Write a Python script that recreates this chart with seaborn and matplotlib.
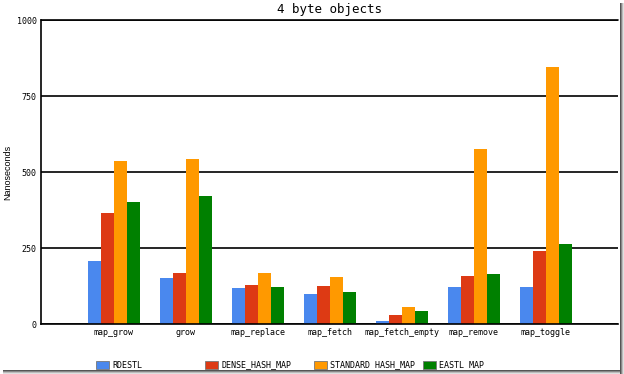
import matplotlib
matplotlib.use("Agg")
import matplotlib.pyplot as plt
from matplotlib.patches import Rectangle
import seaborn as sns
import pandas as pd

categories = ["map_grow", "grow", "map_replace", "map_fetch",
              "map_fetch_empty", "map_remove", "map_toggle"]
series = ["RDESTL", "DENSE_HASH_MAP", "STANDARD HASH_MAP", "EASTL MAP"]
rdestl = [207, 151, 118, 99, 10, 122, 122]
dense_hash_map = [365, 168, 128, 125, 30, 158, 240]
standard_hash_map = [536, 543, 168, 155, 56, 576, 845]
eastl_map = [401, 421, 122, 105, 43, 164, 263]
y_ticks = [0, 250, 500, 750, 1000]
colors = ["#4a88ee", "#dd3a14", "#ff9900", "#008000"]

values = [rdestl, dense_hash_map, standard_hash_map, eastl_map]
rows = []
for s, vals in zip(series, values):
    for c, v in zip(categories, vals):
        rows.append({"test": c, "impl": s, "ns": v})
df = pd.DataFrame(rows)

sns.set_theme(style="white")
W, H = 624, 374
fig = plt.figure(figsize=(W / 100, H / 100), dpi=100)
ax = fig.add_axes([41 / W, 1 - 324 / H, 577 / W, 304 / H])

sns.barplot(data=df, x="test", y="ns", hue="impl", order=categories,
            hue_order=series, palette=dict(zip(series, colors)),
            width=0.72, saturation=1, legend=False, ax=ax, errorbar=None,
            linewidth=0, edgecolor="none")

ax.set_xlim(-1.01, 7.0)
ax.set_ylim(0, 1000)
ax.set_yticks(y_ticks)
ax.set_yticklabels([str(t) for t in y_ticks])
ax.set_axisbelow(True)
ax.yaxis.grid(True, color="black", linewidth=1.2)
ax.xaxis.grid(False)
ax.axhline(1000, color="black", linewidth=1.2, clip_on=False, zorder=0)
for side in ["top", "right"]:
    ax.spines[side].set_visible(False)
for side in ["left", "bottom"]:
    ax.spines[side].set_color("black")
    ax.spines[side].set_linewidth(1.2)

mono = "DejaVu Sans Mono"
ax.tick_params(axis="both", length=0)
ax.tick_params(axis="y", pad=3)
ax.tick_params(axis="x", pad=3)
for lab in ax.get_xticklabels() + ax.get_yticklabels():
    lab.set_fontfamily(mono)
    lab.set_fontsize(6)
    lab.set_color("black")

ax.set_xlabel("")
ax.set_ylabel("")
fig.text(8 / W, 1 - 172 / H, "Nanoseconds", fontsize=6.5,
         family="Liberation Sans", color="black", rotation=90,
         ha="center", va="center")
ax.set_title("4 byte objects", fontsize=9, family=mono, color="black", pad=5)

# legend
for i, (s, col) in enumerate(zip(series, colors)):
    x0 = 96 + i * 109
    fig.add_artist(Rectangle((x0 / W, 1 - 369 / H), 13 / W, 8 / H,
                             transform=fig.transFigure, facecolor=col,
                             edgecolor="#777777", linewidth=0.6))
    fig.text((x0 + 16) / W, 1 - 365 / H, s, fontsize=6, family=mono,
             va="center", ha="left", color="black")

# screenshot shadow
shades = ["#555555", "#888888", "#bbbbbb", "#e0e0e0"]
for k, sh in enumerate(shades):
    fig.add_artist(Rectangle(((620 + k) / W, 0), 1 / W, 1 - 3 / H,
                             transform=fig.transFigure, facecolor=sh,
                             edgecolor="none"))
    fig.add_artist(Rectangle((3 / W, 1 - (371 + k) / H), 617 / W, 1 / H,
                             transform=fig.transFigure, facecolor=sh,
                             edgecolor="none"))

fig.savefig("out.png", dpi=100)
